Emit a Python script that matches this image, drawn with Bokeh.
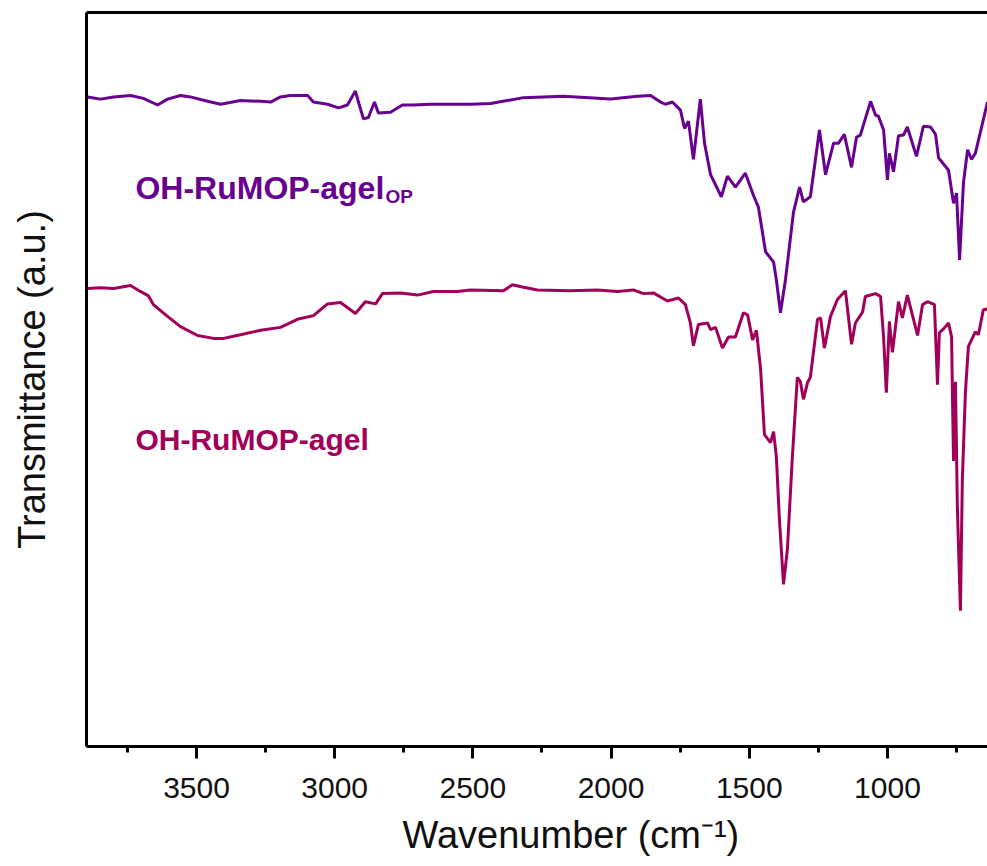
from bokeh.plotting import figure
from bokeh.models import Range1d, LinearAxis, SingleIntervalTicker, FixedTicker, Title
from bokeh.core.properties import value
from bokeh.embed import file_html
from bokeh.resources import INLINE

# OH-RuMOP-agel_OP (upper trace)
wn_op = [3894, 3847, 3800, 3739, 3692, 3641, 3605, 3558, 3522, 3460, 3413, 3341, 3268, 3232,
         3196, 3160, 3098, 3077, 3026, 2986, 2954, 2925, 2914, 2896, 2878, 2856, 2842, 2798,
         2755, 2715, 2653, 2592, 2509, 2436, 2317, 2172, 2002, 1904, 1857, 1821, 1803, 1778,
         1749, 1734, 1720, 1702, 1677, 1662, 1640, 1601, 1579, 1550, 1514, 1485, 1467, 1441,
         1412, 1402, 1387, 1369, 1340, 1318, 1304, 1279, 1246, 1224, 1195, 1177, 1156, 1130,
         1112, 1098, 1061, 1043, 1033, 1014, 1000, 993, 978, 960, 942, 928, 895, 870, 844,
         826, 815, 779, 761, 750, 739, 725, 710, 696, 682, 638]
t_op = [88.5, 88.2, 88.5, 88.7, 88.3, 87.4, 88.2, 88.7, 88.5, 87.9, 87.5, 88.0, 87.9, 87.8,
        88.5, 88.7, 88.7, 87.8, 87.5, 87.0, 87.4, 89.3, 87.8, 85.5, 85.7, 87.8, 86.3, 86.4,
        87.4, 87.4, 87.5, 87.5, 87.5, 87.6, 88.4, 88.6, 88.2, 88.6, 88.7, 87.8, 87.5, 87.8,
        86.7, 84.2, 85.2, 80.0, 88.2, 82.2, 77.9, 74.9, 77.7, 76.2, 78.1, 75.1, 73.5, 67.4,
        66.0, 63.6, 59.1, 63.6, 72.8, 76.2, 74.2, 74.9, 84.0, 77.9, 82.2, 82.2, 83.4, 78.9,
        83.0, 83.3, 87.9, 86.0, 85.9, 84.0, 77.2, 80.8, 78.3, 83.2, 83.3, 84.4, 80.4, 84.5, 84.4,
        83.4, 80.2, 78.5, 74.0, 75.4, 66.3, 76.8, 81.3, 80.0, 80.8, 87.8]

# OH-RuMOP-agel (lower trace)
wn_gel = [3894, 3847, 3800, 3739, 3703, 3674, 3656, 3605, 3558, 3496, 3438, 3402, 3341, 3268,
          3196, 3135, 3077, 3026, 2979, 2954, 2925, 2889, 2852, 2827, 2762, 2700, 2643, 2556,
          2509, 2389, 2357, 2321, 2266, 2147, 2049, 1977, 1919, 1883, 1847, 1796, 1756, 1731,
          1713, 1702, 1684, 1651, 1640, 1622, 1597, 1575, 1550, 1521, 1506, 1488, 1474, 1459,
          1445, 1423, 1412, 1402, 1391, 1376, 1362, 1344, 1326, 1315, 1304, 1289, 1279, 1253,
          1242, 1228, 1206, 1181, 1152, 1130, 1116, 1090, 1080, 1043, 1025, 1014, 1004, 993,
          982, 960, 946, 928, 891, 873, 855, 830, 819, 812, 797, 779, 768, 761, 754, 747, 736,
          729, 718, 707, 682, 671, 653, 638]
t_gel = [62.4, 62.5, 62.4, 62.8, 62.0, 61.4, 60.2, 58.6, 57.2, 56.0, 55.6, 55.6, 56.1, 56.7,
         57.1, 58.2, 58.7, 60.3, 60.5, 59.8, 59.0, 60.6, 60.3, 61.7, 61.8, 61.5, 62.0, 62.0,
         62.2, 62.1, 62.9, 62.6, 62.2, 62.1, 62.2, 62.0, 62.2, 61.7, 61.8, 60.7, 61.1, 60.2,
         57.7, 54.6, 57.5, 57.7, 56.8, 57.1, 54.3, 55.8, 55.8, 59.1, 58.8, 55.4, 56.7, 51.4,
         42.5, 41.4, 42.9, 39.5, 31.0, 22.1, 26.9, 39.5, 50.3, 49.7, 47.3, 49.6, 50.3, 58.2,
         58.4, 54.3, 58.6, 60.9, 62.1, 54.8, 57.7, 59.2, 61.3, 61.7, 61.3, 55.8, 48.2, 57.9,
         53.7, 60.6, 58.4, 61.5, 56.0, 60.2, 60.6, 60.2, 49.3, 56.4, 56.9, 57.7, 55.8, 38.9, 49.7, 32.6, 18.5,
         36.4, 48.2, 54.5, 56.5, 56.1, 59.5, 59.6]

x_ticks_interval = 500
c_op = "#680090"
c_gel = "#a0005a"
font = "Liberation Sans"
ink = "#111111"

p = figure(width=987, height=866, output_backend="svg", toolbar_location=None,
           x_range=Range1d(3898, 638), y_range=Range1d(0, 100),
           min_border_left=86, min_border_right=0, min_border_top=12, min_border_bottom=118,
           x_axis_location=None, y_axis_location=None)
p.outline_line_color = None
p.grid.visible = False
p.background_fill_color = "white"
p.border_fill_color = "white"

p.line(wn_op, t_op, line_color=c_op, line_width=3)
p.line(wn_gel, t_gel, line_color=c_gel, line_width=3)

p.text(x=[3721], y=[76.1], text=["OH-RuMOP-agel"], text_font=value(font), text_font_style="bold",
       text_font_size="32px", text_color=c_op, text_baseline="middle", text_align="left")
p.text(x=[2816], y=[75.0], text=["OP"], text_font=value(font), text_font_style="bold",
       text_font_size="19px", text_color=c_op, text_baseline="middle", text_align="left")
p.text(x=[3721], y=[41.8], text=["OH-RuMOP-agel"], text_font=value(font), text_font_style="bold",
       text_font_size="30px", text_color=c_gel, text_baseline="middle", text_align="left")

xaxis = LinearAxis(ticker=SingleIntervalTicker(interval=x_ticks_interval, num_minor_ticks=2))
xaxis.axis_line_width = 3
xaxis.major_tick_line_width = 3
xaxis.minor_tick_line_width = 3
xaxis.major_tick_in = 0
xaxis.major_tick_out = 12
xaxis.minor_tick_in = 0
xaxis.minor_tick_out = 6
xaxis.major_label_text_font = font
xaxis.major_label_text_font_size = "30px"
xaxis.major_label_text_color = ink
xaxis.major_label_standoff = 19
p.add_layout(xaxis, "below")

xt = Title(text="Wavenumber (cm\u207b\u00b9)", align="left", offset=316,
           text_font=font, text_font_size="38px", text_font_style="normal",
           text_color=ink, standoff=22)
p.add_layout(xt, "below")

yaxis = LinearAxis(ticker=FixedTicker(ticks=[]))
yaxis.axis_line_width = 3
yaxis.axis_label = "Transmittance (a.u.)"
yaxis.axis_label_text_font = font
yaxis.axis_label_text_font_size = "38px"
yaxis.axis_label_text_font_style = "normal"
yaxis.axis_label_text_color = ink
yaxis.axis_label_standoff = 34
yaxis.major_tick_out = 0
yaxis.major_tick_in = 0
p.add_layout(yaxis, "left")

top = LinearAxis(ticker=FixedTicker(ticks=[]))
top.axis_line_width = 3
top.major_tick_out = 0
top.major_tick_in = 0
p.add_layout(top, "above")

open("out.html", "w").write(file_html(p, INLINE))
